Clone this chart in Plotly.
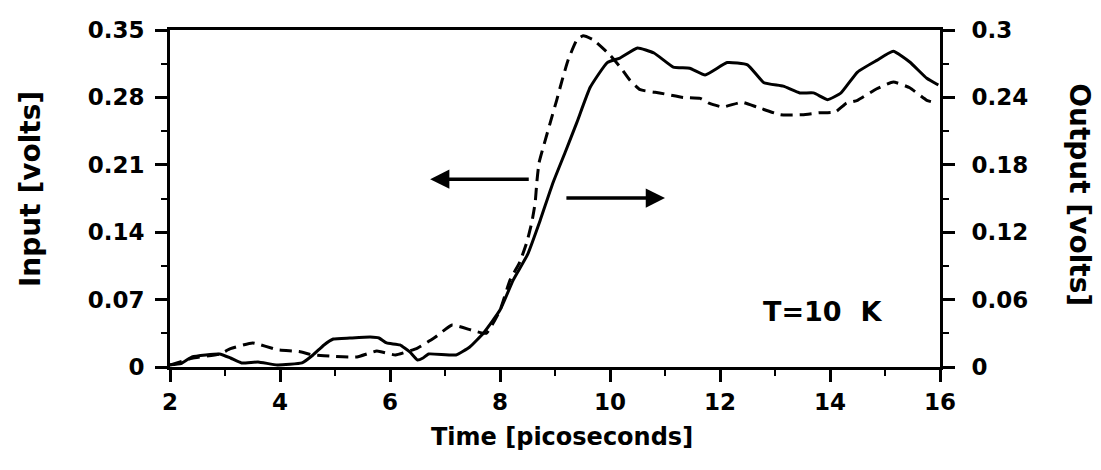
import plotly.graph_objects as go

# Input (dashed, left axis) - time [ps], volts
t_in = [2.0, 2.4, 2.9, 3.1, 3.5, 3.95, 4.35, 4.6, 5.0, 5.4, 5.76, 6.1, 6.5, 6.8, 7.13, 7.5, 7.75,
        8.0, 8.18, 8.36, 8.49, 8.58, 8.64, 8.67, 8.71, 8.91, 9.03, 9.13, 9.24, 9.4, 9.51, 9.69,
        10.0, 10.2, 10.36, 10.55, 10.9, 11.33, 11.64, 11.8, 12.05, 12.4, 12.67, 13.1, 13.5,
        13.8, 14.1, 14.3, 14.5, 14.85, 15.15, 15.45, 15.76, 15.95]
v_in = [0.002, 0.009, 0.0135, 0.019, 0.025, 0.018, 0.016, 0.0125, 0.011, 0.0104, 0.0166, 0.0125,
        0.0197, 0.030, 0.0436, 0.038, 0.035, 0.059, 0.090, 0.109, 0.130, 0.1506, 0.171, 0.192,
        0.212, 0.253, 0.277, 0.298, 0.319, 0.340, 0.344, 0.340, 0.324, 0.3105, 0.298, 0.288,
        0.2846, 0.280, 0.279, 0.274, 0.270, 0.275, 0.270, 0.262, 0.262, 0.264, 0.265, 0.274,
        0.277, 0.289, 0.296, 0.290, 0.277, 0.274]

# Output (solid, right axis)
t_out = [2.0, 2.2, 2.4, 2.9, 3.1, 3.3, 3.6, 3.95, 4.4, 4.6, 4.8, 4.97, 5.27, 5.64, 5.8, 5.94, 6.18,
         6.36, 6.5, 6.6, 6.7, 7.2, 7.45, 7.7, 8.0, 8.24, 8.5, 8.73, 8.96, 9.2, 9.4, 9.64, 9.95,
         10.18, 10.5, 10.8, 11.15, 11.45, 11.73, 12.13, 12.5, 12.8, 13.15, 13.45, 13.7, 13.96,
         14.2, 14.5, 14.85, 15.15, 15.45, 15.76, 15.97]
v_out = [0.002, 0.003, 0.009, 0.0116, 0.008, 0.0036, 0.0045, 0.0018, 0.0036, 0.0107, 0.0196,
         0.0249, 0.0258, 0.0267, 0.0258, 0.0214, 0.0196, 0.0134, 0.0062, 0.008, 0.0116, 0.0107,
         0.0178, 0.0303, 0.0507, 0.0774, 0.100, 0.1305, 0.1636, 0.193, 0.218, 0.249, 0.271,
         0.275, 0.284, 0.2795, 0.267, 0.266, 0.260, 0.271, 0.269, 0.253, 0.250, 0.244, 0.244,
         0.238, 0.244, 0.2626, 0.273, 0.281, 0.2715, 0.257, 0.251]

x_ticks = [2, 4, 6, 8, 10, 12, 14, 16]
y1_ticks = [0, 0.07, 0.14, 0.21, 0.28, 0.35]
y1_labels = ["0", "0.07", "0.14", "0.21", "0.28", "0.35"]
y2_ticks = [0, 0.06, 0.12, 0.18, 0.24, 0.30]
y2_labels = ["0", "0.06", "0.12", "0.18", "0.24", "0.3"]

FONT = "DejaVu Sans"
tickfont = dict(family=FONT, size=23, color="black", weight="bold")

fig = go.Figure()
fig.add_trace(go.Scatter(x=t_in, y=v_in, mode="lines", yaxis="y",
                         line=dict(color="black", width=3, dash="12px,7px", shape="spline", smoothing=0.4)))
fig.add_trace(go.Scatter(x=t_out, y=v_out, mode="lines", yaxis="y2",
                         line=dict(color="black", width=3, shape="spline", smoothing=0.4)))

axis_common = dict(showgrid=False, zeroline=False, showline=True, linecolor="black", linewidth=3,
                   ticks="outside", ticklen=12, tickwidth=3, tickcolor="black", tickfont=tickfont)

fig.update_layout(
    width=1101, height=470,
    margin=dict(l=170, r=161, t=30, b=103),
    paper_bgcolor="white", plot_bgcolor="white",
    showlegend=False,
    xaxis=dict(range=[2, 16], tickvals=x_ticks, mirror=True,
               minor=dict(dtick=1, ticks="outside", ticklen=6, tickwidth=2, tickcolor="black"),
               **axis_common),
    yaxis=dict(range=[0, 0.35], tickvals=y1_ticks, ticktext=y1_labels, ticklabelstandoff=6,
               minor=dict(dtick=0.035, ticks="outside", ticklen=6, tickwidth=2, tickcolor="black"),
               **axis_common),
    yaxis2=dict(range=[0, 0.30], tickvals=y2_ticks, ticktext=y2_labels, overlaying="y", side="right",
                ticklabelstandoff=12,
                minor=dict(dtick=0.03, ticks="outside", ticklen=6, tickwidth=2, tickcolor="black"),
                **axis_common),
)

fig.add_annotation(text="Time [picoseconds]", xref="paper", yref="paper", x=0.509, y=-0.2077,
                   showarrow=False, font=dict(family=FONT, size=24, color="black", weight="bold"),
                   xanchor="center", yanchor="middle")
fig.add_annotation(text="Input [volts]", xref="paper", yref="paper", x=-0.1818, y=0.528,
                   showarrow=False, font=dict(family=FONT, size=28, color="black", weight="bold"),
                   textangle=-90, xanchor="center", yanchor="middle")
fig.add_annotation(text="Output [volts]", xref="paper", yref="paper", x=1.1818, y=0.51,
                   showarrow=False, font=dict(family=FONT, size=28, color="black", weight="bold"),
                   textangle=90, xanchor="center", yanchor="middle")
fig.add_annotation(text="T=10  K", xref="x", yref="y", x=13.87, y=0.058, showarrow=False,
                   font=dict(family=FONT, size=27, color="black", weight="bold"))

# Arrows
fig.add_annotation(x=6.73, y=0.195, ax=8.55, ay=0.195, xref="x", yref="y", axref="x", ayref="y",
                   text="", showarrow=True, arrowhead=2, arrowsize=1.1, arrowwidth=3.5, arrowcolor="black")
fig.add_annotation(x=11.0, y=0.1755, ax=9.18, ay=0.1755, xref="x", yref="y", axref="x", ayref="y",
                   text="", showarrow=True, arrowhead=2, arrowsize=1.1, arrowwidth=3.5, arrowcolor="black")

fig.write_html("out.html")
